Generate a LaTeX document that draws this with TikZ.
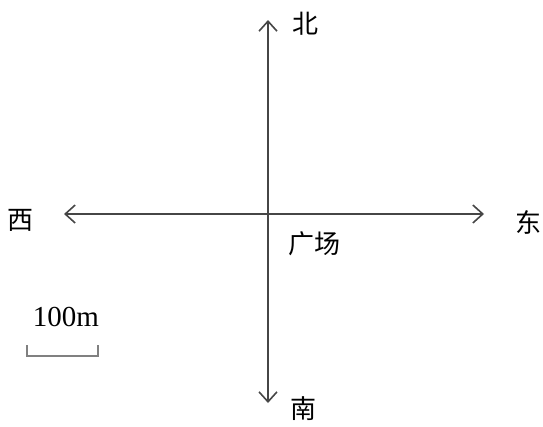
\documentclass[tikz,border=0pt]{standalone}
\usepackage{fontspec}
\setmainfont{Liberation Serif}
\newfontfamily\cjk{Noto Sans CJK SC}
\usetikzlibrary{arrows.meta}
\definecolor{axisgray}{RGB}{70,70,70}

\begin{document}
\begin{tikzpicture}[x=1pt, y=-1pt, >={Straight Barb[length=10pt, width=18pt, line width=1.6pt]},
  axis/.style={draw=axisgray, line width=1.4pt},
  dirlabel/.style={font=\cjk\fontsize{26}{30}\selectfont, inner sep=0pt}]
  \useasboundingbox (0,0) rectangle (543,426);
  % axes
  \coordinate (N) at (268,20);
  \coordinate (S) at (268,403);
  \coordinate (W) at (64,214);
  \coordinate (E) at (484,214);
  \draw[axis, <->] (S) -- (N);
  \draw[axis, <->] (W) -- (E);
  % labels
  \node[dirlabel] (north) at (305,24) {北};
  \node[dirlabel] (south) at (303,409) {南};
  \node[dirlabel] (west) at (21,220) {西};
  \node[dirlabel] (east) at (528,222) {东};
  \node[dirlabel] (square) at (314,244) {广场};
  % scale bar
  \node[font=\fontsize{29}{34}\selectfont, inner sep=0pt] (scale) at (66,317) {100m};
  \coordinate (barL) at (27,345);
  \coordinate (barR) at (98,345);
  \draw[draw=gray, line width=1.3pt] (barL) -- ++(0,11) -| (barR);
\end{tikzpicture}
\end{document}
